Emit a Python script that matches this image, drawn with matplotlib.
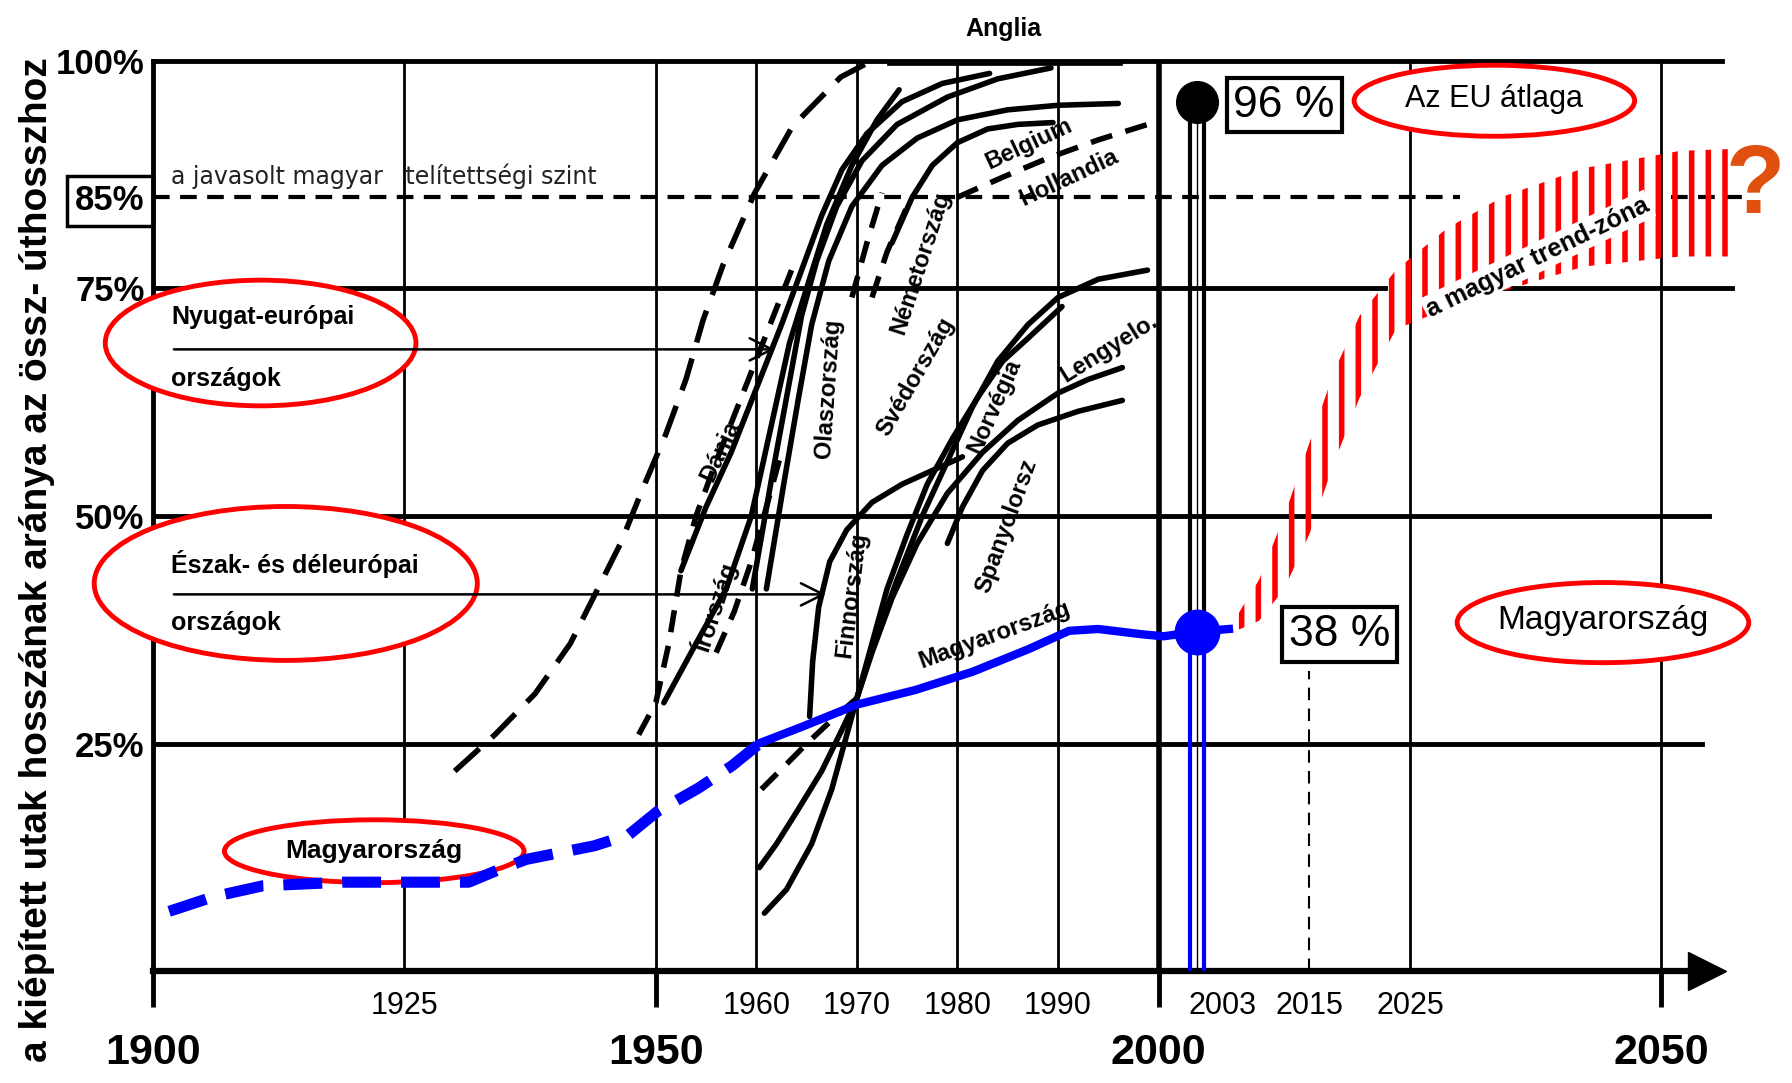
import matplotlib
matplotlib.use('Agg')
import matplotlib.pyplot as plt
from matplotlib.patches import Ellipse

plt.rcParams['hatch.linewidth'] = 4
SANS = ['Liberation Sans', 'DejaVu Sans']

# axis ticks
major_years = [1900, 1950, 2000, 2050]
minor_years = [1925, 1960, 1970, 1980, 1990, 2003, 2015, 2025]
pct_ticks = [25, 50, 75, 85, 100]
pct_labels = ['25%', '50%', '75%', '85%', '100%']

# Magyarország (blue)
hu_old_x = [1901.6, 1906, 1910.9, 1918.9, 1925.7, 1931.4, 1934, 1937.1, 1943.9, 1947.3, 1950.2, 1954.2, 1957.6, 1960.4]
hu_old_y = [6.6, 8.2, 9.4, 9.8, 9.8, 9.8, 11, 12.3, 13.8, 15, 17.6, 20.1, 22.6, 25.1]
hu_x = [1960.4, 1964.4, 1970, 1975.8, 1981.5, 1987.1, 1991.1, 1994, 1998.5, 2000.5, 2003.8, 2007]
hu_y = [25.1, 26.8, 29.3, 30.9, 32.9, 35.4, 37.4, 37.6, 37.0, 36.8, 37.3, 37.6]

# western countries, solid lines
west_solid = {
    'Írország': ([1950.8, 1954, 1957, 1959.5, 1961.5, 1963.3, 1965, 1967, 1969.5, 1972, 1974.2],
                 [29.5, 36, 42, 50, 60, 69, 75, 82, 88.5, 93.5, 96.8]),
    'Dánia': ([1952.5, 1955, 1957.5, 1960, 1962.5, 1964.5, 1966.5, 1968.5, 1971, 1974.5, 1978.5, 1983.2],
              [44, 51, 57, 64, 71, 77, 83, 88, 92, 95.5, 97.5, 98.6]),
    'Olaszország 1': ([1959.6, 1961.5, 1963, 1964.5, 1966, 1968, 1970.5, 1974, 1979, 1984, 1989.3],
                      [42, 54, 63, 72, 78, 84, 89, 93, 96, 98, 99.2]),
    'Olaszország 2': ([1961, 1962.8, 1964.2, 1965.5, 1967.2, 1969.5, 1972.5, 1976, 1980, 1985, 1990, 1996],
                      [42, 54, 63, 71, 78, 84, 88.5, 91.5, 93.5, 94.6, 95.1, 95.3]),
    'Belgium': ([1973.5, 1975.5, 1977.5, 1980, 1983, 1986, 1989.5],
                [80, 85, 88.5, 91, 92.5, 93, 93.2]),
}
# dashed lines
anglia_x = [1930, 1934, 1938, 1941.5, 1944, 1946.5, 1948.7, 1951, 1953, 1954.7, 1956.7, 1959.8, 1963.6, 1968.4, 1971.5]
anglia_y = [22, 26, 30.5, 36, 41.5, 47, 53, 59, 65, 71.5, 77.6, 85.4, 92.8, 98.2, 100]
dashed = {
    'Írország szaggatott': ([1948.3, 1950, 1951.3, 1952.5, 1954, 1956, 1958.5, 1961, 1963.5],
                            [26, 29.5, 36, 44, 50, 56, 63, 70, 77]),
    'Olasz szaggatott': ([1956, 1957.8, 1959.5, 1961, 1962.5], [35, 39.5, 45, 51, 57]),
    'Finn szaggatott': ([1960.5, 1962.5, 1965, 1967.5, 1970], [20, 22.2, 25, 27.6, 30]),
    'Német 1': ([1969.5, 1971, 1972.5], [74, 80, 85.5]),
    'Német 2': ([1971.5, 1973, 1975], [74, 79, 84]),
    'Hollandia': ([1980, 1984.5, 1989, 1994, 1999.5], [85, 87.2, 89.3, 91.3, 93.2]),
}
# northern and southern countries
north_south = {
    'Finnország': ([1965.3, 1965.6, 1966.2, 1967.3, 1969, 1971.5, 1974.5, 1977.5, 1980.5],
                   [28, 34, 40, 45, 48.5, 51.5, 53.5, 55, 56.5]),
    'Svédország': ([1970, 1971.5, 1973, 1975, 1977, 1979.5, 1982, 1984.5, 1987, 1990.4],
                   [30, 36, 42, 48, 53.5, 58.5, 63, 67, 69.5, 73]),
    'Norvégia': ([1960.3, 1962, 1964, 1966.5, 1968.5, 1970, 1972, 1974, 1976.5, 1979, 1981.5, 1984, 1987, 1990, 1994, 1998.9],
                 [11.4, 14, 17.5, 22, 26.5, 30, 37, 43, 50, 56, 62, 67, 71, 74, 76, 77]),
    'Lengyelo.': ([1960.8, 1963, 1965.5, 1967.5, 1969, 1970, 1971.5, 1973.5, 1976, 1979, 1982.5, 1986, 1990, 1993, 1996.4],
                  [6.4, 9, 14, 20, 26, 30, 35, 41, 47, 52.5, 57, 60.5, 63.5, 65, 66.3]),
    'Spanyolorsz': ([1979, 1980.5, 1982.5, 1985, 1988, 1992, 1996.4], [47, 51, 55, 58, 60, 61.5, 62.7]),
}
# trend zone
zone_x = [2007.5, 2010, 2012.5, 2015, 2017.5, 2020, 2023.6, 2028.7, 2034.3, 2042.3, 2051.9, 2057]
zone_high = [38.5, 43, 50, 58, 66, 72, 77, 81.6, 85.1, 88.2, 90.1, 90.3]
zone_low = [37.3, 38.5, 42, 48, 56, 63, 70.5, 72.8, 74.7, 77.4, 78.5, 78.5]

eu_2003 = 96
hu_2003 = 38

# country name labels: text, x, y, rotation
country_labels = [
    ('Dánia', 1956.4, 57.1, 65), ('Írország', 1955.8, 40.1, 72), ('Olaszország', 1967.2, 64, 86),
    ('Németország', 1976.3, 77.8, 72), ('Belgium', 1987.1, 90.9, 25), ('Hollandia', 1991.1, 87.2, 25),
    ('Svédország', 1975.8, 65.3, 60), ('Norvégia', 1983.7, 62.1, 66), ('Lengyelo.', 1995.1, 68.4, 32),
    ('Finnország', 1969.5, 41.4, 83), ('Spanyolorsz', 1984.9, 48.9, 70), ('Magyarország', 1983.7, 37.0, 20),
]

fig = plt.figure(figsize=(17.92, 10.83), dpi=100)
ax = fig.add_axes([0.0854, 0.103, 0.9146, 0.841])
ax.set_xlim(1900, 2063)
ax.set_ylim(0, 100)

for s in ['top', 'right']:
    ax.spines[s].set_visible(False)
ax.spines['left'].set_linewidth(3.5)
ax.spines['bottom'].set_linewidth(4.5)
ax.spines['bottom'].set_bounds(1900, 2053)
ax.plot([2054.5], [0], marker='>', ms=28, color='k', clip_on=False)

# grid
ax.plot([1900, 2056], [100, 100], 'k', lw=3.5, clip_on=False)
ax.plot([1900, 2022.5], [75, 75], 'k', lw=3.5)
ax.plot([2033.7, 2057], [75, 75], 'k', lw=3.5)
ax.plot([1900, 2054.7], [50, 50], 'k', lw=3.5)
ax.plot([1900, 2054], [25, 25], 'k', lw=3.5)
for yr in [1925, 1950, 1960, 1970, 1980, 1990, 2025, 2050]:
    ax.plot([yr, yr], [0, 100], 'k', lw=2)
ax.plot([2000, 2000], [0, 100], 'k', lw=4)
ax.plot([2015, 2015], [0, 33], 'k', lw=1.5, dashes=(6, 4))
ax.plot([1900, 2030], [85, 85], 'k', lw=3, dashes=(4, 2.5))
ax.plot([2051, 2058], [85, 85], 'k', lw=3, dashes=(4, 2.5))

ax.set_xticks(major_years, labels=[str(v) for v in major_years])
ax.set_xticks(minor_years, labels=[str(v) for v in minor_years], minor=True)
ax.tick_params(axis='x', which='major', length=26, width=3.5, pad=18, labelsize=31)
ax.tick_params(axis='x', which='minor', length=0, pad=14, labelsize=22)
for lab in ax.get_xticklabels():
    lab.set_family(SANS)
    lab.set_fontweight('bold')
for lab in ax.get_xticklabels(minor=True):
    lab.set_family(SANS)
    if lab.get_text() == '2003':
        lab.set_ha('left')
ax.set_yticks(pct_ticks, labels=pct_labels)
ax.tick_params(axis='y', length=0, pad=6, labelsize=25)
for lab in ax.get_yticklabels():
    lab.set_family(SANS)
    lab.set_fontweight('bold')
    if lab.get_text() == '85%':
        lab.set_bbox(dict(boxstyle='square,pad=0.25', fc='white', ec='black', lw=2.5))

ax.set_ylabel('a kiépített utak hosszának aránya az össz- úthosszhoz', fontsize=28,
              fontweight='bold', family=SANS)
ax.yaxis.set_label_coords(-0.06, 0.452)

# curves
ax.plot(anglia_x, anglia_y, 'k', lw=4, dashes=(6, 3), zorder=4)
ax.plot([1973.5, 1996], [100, 100], 'k', lw=7, zorder=4)
for xs, ys in dashed.values():
    ax.plot(xs, ys, 'k', lw=4, dashes=(4, 2.5), zorder=4)
for xs, ys in west_solid.values():
    ax.plot(xs, ys, 'k', lw=4, zorder=4, solid_capstyle='round')
for xs, ys in north_south.values():
    ax.plot(xs, ys, 'k', lw=4, zorder=4, solid_capstyle='round')
ax.plot(hu_old_x, hu_old_y, color='#0000ff', lw=8, dashes=(3.5, 1.8), zorder=5)
ax.plot(hu_x, hu_y, color='#0000ff', lw=6, zorder=5)

# 2003 markers
for xl in [2003.1, 2004.5]:
    ax.plot([xl, xl], [hu_2003, eu_2003 - 0.5], 'k', lw=3, zorder=5)
    ax.plot([xl, xl], [0, hu_2003], color='#0000ff', lw=3, zorder=5)
ax.plot([2003.8, 2003.8], [0, eu_2003 - 0.5], 'k', lw=1, zorder=5)
ax.plot([2003.8], [eu_2003 - 0.5], 'o', ms=30, color='k', zorder=6)
ax.plot([2003.8], [hu_2003 - 0.7], 'o', ms=32, color='#0000ff', zorder=6)

# trend zone
ax.fill_between(zone_x, zone_low, zone_high, facecolor='none', edgecolor='#ff0000',
                hatch='|', linewidth=0, zorder=4)
ax.text(2037.7, 78.4, 'a magyar trend-zóna', rotation=26, ha='center', va='center',
        fontsize=18, fontweight='bold', family=SANS, rotation_mode='anchor', zorder=6,
        bbox=dict(boxstyle='square,pad=0.1', fc='white', ec='none'))
ax.text(2059.3, 86, '?', color='#e0500f', fontsize=70, fontweight='bold', family=SANS,
        ha='center', va='center', clip_on=False)

# ellipses and annotations
def oval(cx, cy, w, h):
    ax.add_patch(Ellipse((cx, cy), w, h, fc='white', ec='#ff0000', lw=3.5, zorder=3,
                         clip_on=False))

oval(1910.7, 69.0, 30.9, 13.8)
ax.text(1901.8, 71.8, 'Nyugat-európai', fontsize=18, fontweight='bold', family=SANS, va='center', zorder=6)
ax.text(1901.8, 65.0, 'országok', fontsize=18, fontweight='bold', family=SANS, va='center', zorder=6)
ax.annotate('', xy=(1962.1, 68.3), xytext=(1901.8, 68.3),
            arrowprops=dict(arrowstyle='->', lw=1.8, mutation_scale=40), zorder=6)

oval(1913.2, 42.6, 38.1, 16.9)
ax.text(1901.8, 44.7, 'Észak- és déleurópai', fontsize=18, fontweight='bold', family=SANS, va='center', zorder=6)
ax.text(1901.8, 38.3, 'országok', fontsize=18, fontweight='bold', family=SANS, va='center', zorder=6)
ax.annotate('', xy=(1967.2, 41.4), xytext=(1901.8, 41.4),
            arrowprops=dict(arrowstyle='->', lw=1.8, mutation_scale=40), zorder=6)

oval(1922, 13.2, 29.8, 6.9)
ax.text(1922, 13.2, 'Magyarország', fontsize=19, fontweight='bold', family=SANS,
        ha='center', va='center', zorder=6)

oval(2033.4, 95.6, 27.9, 7.8)
ax.text(2033.4, 95.8, 'Az EU átlaga', fontsize=22, family=SANS, ha='center', va='center', zorder=6)

oval(2044.2, 38.3, 29, 8.8)
ax.text(2044.2, 38.5, 'Magyarország', fontsize=24, family=SANS, ha='center', va='center', zorder=6)

ax.text(2012.5, 95.1, f'{eu_2003} %', fontsize=32, family=SANS, ha='center', va='center', zorder=6,
        bbox=dict(boxstyle='square,pad=0.15', fc='white', ec='black', lw=3))
ax.text(2018, 37.0, f'{hu_2003} %', fontsize=32, family=SANS, ha='center', va='center', zorder=6,
        bbox=dict(boxstyle='square,pad=0.15', fc='white', ec='black', lw=3))

ax.text(1901.8, 87.3, 'a javasolt magyar   telítettségi szint', fontsize=17, color='#222222',
        family='DejaVu Sans', va='center')
ax.text(1984.6, 103.5, 'Anglia', fontsize=18, fontweight='bold', family=SANS,
        ha='center', va='center', clip_on=False)

for name, x, y, rot in country_labels:
    ax.text(x, y, name, rotation=rot, rotation_mode='anchor', ha='center', va='center',
            fontsize=17, fontweight='bold', family=SANS, zorder=6)

fig.savefig('out.png', dpi=100, facecolor='white')
